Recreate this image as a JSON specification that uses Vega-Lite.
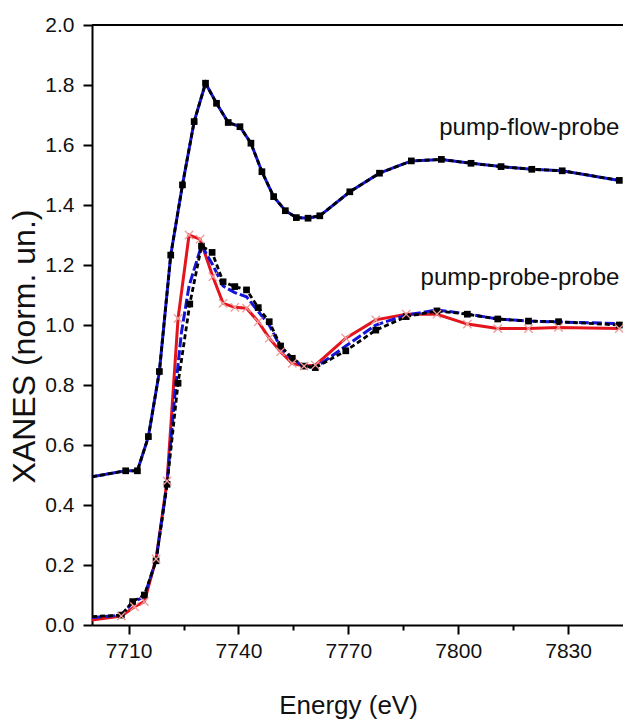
{
  "$schema": "https://vega.github.io/schema/vega-lite/v6.json",
  "width": 531,
  "height": 600,
  "autosize": {"type": "none"},
  "padding": {"left": 92, "top": 25, "right": 0, "bottom": 98},
  "background": "white",
  "config": {"view": {"stroke": null}, "font": "Liberation Sans"},
  "datasets": {"xanes": [
    {"s": "pfp", "E": 7700, "v": 0.494},
    {"s": "pfp", "E": 7709.2, "v": 0.514},
    {"s": "pfp", "E": 7712.4, "v": 0.514},
    {"s": "pfp", "E": 7715.4, "v": 0.628},
    {"s": "pfp", "E": 7718.4, "v": 0.845},
    {"s": "pfp", "E": 7721.5, "v": 1.233},
    {"s": "pfp", "E": 7724.7, "v": 1.467},
    {"s": "pfp", "E": 7727.9, "v": 1.678},
    {"s": "pfp", "E": 7731.0, "v": 1.806},
    {"s": "pfp", "E": 7734.0, "v": 1.739},
    {"s": "pfp", "E": 7737.2, "v": 1.675},
    {"s": "pfp", "E": 7740.4, "v": 1.661},
    {"s": "pfp", "E": 7743.4, "v": 1.606},
    {"s": "pfp", "E": 7746.4, "v": 1.511},
    {"s": "pfp", "E": 7749.6, "v": 1.428},
    {"s": "pfp", "E": 7752.8, "v": 1.381},
    {"s": "pfp", "E": 7755.8, "v": 1.358},
    {"s": "pfp", "E": 7759.0, "v": 1.356},
    {"s": "pfp", "E": 7762.2, "v": 1.364},
    {"s": "pfp", "E": 7770.4, "v": 1.444},
    {"s": "pfp", "E": 7778.5, "v": 1.506},
    {"s": "pfp", "E": 7787.2, "v": 1.547},
    {"s": "pfp", "E": 7795.4, "v": 1.552},
    {"s": "pfp", "E": 7803.5, "v": 1.539},
    {"s": "pfp", "E": 7811.7, "v": 1.528},
    {"s": "pfp", "E": 7820.1, "v": 1.519},
    {"s": "pfp", "E": 7828.4, "v": 1.514},
    {"s": "pfp", "E": 7844, "v": 1.482},

    {"s": "ppp_black", "E": 7700, "v": 0.028},
    {"s": "ppp_black", "E": 7708.0, "v": 0.033},
    {"s": "ppp_black", "E": 7711.1, "v": 0.078},
    {"s": "ppp_black", "E": 7714.3, "v": 0.100},
    {"s": "ppp_black", "E": 7717.5, "v": 0.214},
    {"s": "ppp_black", "E": 7720.5, "v": 0.469},
    {"s": "ppp_black", "E": 7723.5, "v": 0.806},
    {"s": "ppp_black", "E": 7726.7, "v": 1.07},
    {"s": "ppp_black", "E": 7729.9, "v": 1.263},
    {"s": "ppp_black", "E": 7732.8, "v": 1.242},
    {"s": "ppp_black", "E": 7735.8, "v": 1.144},
    {"s": "ppp_black", "E": 7739.0, "v": 1.128},
    {"s": "ppp_black", "E": 7742.2, "v": 1.117},
    {"s": "ppp_black", "E": 7745.4, "v": 1.058},
    {"s": "ppp_black", "E": 7748.4, "v": 1.011},
    {"s": "ppp_black", "E": 7751.5, "v": 0.93},
    {"s": "ppp_black", "E": 7754.7, "v": 0.889},
    {"s": "ppp_black", "E": 7757.9, "v": 0.863},
    {"s": "ppp_black", "E": 7761.0, "v": 0.858},
    {"s": "ppp_black", "E": 7769.3, "v": 0.914},
    {"s": "ppp_black", "E": 7777.5, "v": 0.983},
    {"s": "ppp_black", "E": 7785.8, "v": 1.028},
    {"s": "ppp_black", "E": 7794.2, "v": 1.047},
    {"s": "ppp_black", "E": 7802.5, "v": 1.036},
    {"s": "ppp_black", "E": 7810.8, "v": 1.020},
    {"s": "ppp_black", "E": 7819.2, "v": 1.013},
    {"s": "ppp_black", "E": 7827.4, "v": 1.011},
    {"s": "ppp_black", "E": 7844, "v": 1.000},

    {"s": "ppp_red", "E": 7700, "v": 0.017},
    {"s": "ppp_red", "E": 7708.0, "v": 0.030},
    {"s": "ppp_red", "E": 7711.6, "v": 0.061},
    {"s": "ppp_red", "E": 7714.3, "v": 0.078},
    {"s": "ppp_red", "E": 7717.5, "v": 0.220},
    {"s": "ppp_red", "E": 7720.5, "v": 0.480},
    {"s": "ppp_red", "E": 7723.5, "v": 1.022},
    {"s": "ppp_red", "E": 7726.5, "v": 1.300},
    {"s": "ppp_red", "E": 7729.5, "v": 1.286},
    {"s": "ppp_red", "E": 7733.0, "v": 1.161},
    {"s": "ppp_red", "E": 7735.8, "v": 1.072},
    {"s": "ppp_red", "E": 7739.0, "v": 1.059},
    {"s": "ppp_red", "E": 7742.2, "v": 1.056},
    {"s": "ppp_red", "E": 7745.4, "v": 1.011},
    {"s": "ppp_red", "E": 7748.4, "v": 0.956},
    {"s": "ppp_red", "E": 7751.5, "v": 0.911},
    {"s": "ppp_red", "E": 7754.7, "v": 0.872},
    {"s": "ppp_red", "E": 7757.9, "v": 0.863},
    {"s": "ppp_red", "E": 7761.0, "v": 0.866},
    {"s": "ppp_red", "E": 7769.3, "v": 0.956},
    {"s": "ppp_red", "E": 7777.5, "v": 1.017},
    {"s": "ppp_red", "E": 7785.8, "v": 1.036},
    {"s": "ppp_red", "E": 7794.2, "v": 1.036},
    {"s": "ppp_red", "E": 7802.5, "v": 1.003},
    {"s": "ppp_red", "E": 7810.8, "v": 0.988},
    {"s": "ppp_red", "E": 7819.2, "v": 0.988},
    {"s": "ppp_red", "E": 7827.4, "v": 0.992},
    {"s": "ppp_red", "E": 7844, "v": 0.988},

    {"s": "ppp_blue", "E": 7700, "v": 0.025},
    {"s": "ppp_blue", "E": 7708.0, "v": 0.033},
    {"s": "ppp_blue", "E": 7711.1, "v": 0.075},
    {"s": "ppp_blue", "E": 7714.3, "v": 0.095},
    {"s": "ppp_blue", "E": 7717.5, "v": 0.217},
    {"s": "ppp_blue", "E": 7720.5, "v": 0.472},
    {"s": "ppp_blue", "E": 7722.5, "v": 0.750},
    {"s": "ppp_blue", "E": 7724.4, "v": 0.973},
    {"s": "ppp_blue", "E": 7726.5, "v": 1.130},
    {"s": "ppp_blue", "E": 7729.9, "v": 1.265},
    {"s": "ppp_blue", "E": 7733.0, "v": 1.200},
    {"s": "ppp_blue", "E": 7735.8, "v": 1.130},
    {"s": "ppp_blue", "E": 7739.0, "v": 1.108},
    {"s": "ppp_blue", "E": 7742.2, "v": 1.094},
    {"s": "ppp_blue", "E": 7745.4, "v": 1.045},
    {"s": "ppp_blue", "E": 7748.4, "v": 1.000},
    {"s": "ppp_blue", "E": 7751.5, "v": 0.925},
    {"s": "ppp_blue", "E": 7754.7, "v": 0.885},
    {"s": "ppp_blue", "E": 7757.9, "v": 0.862},
    {"s": "ppp_blue", "E": 7761.0, "v": 0.858},
    {"s": "ppp_blue", "E": 7769.3, "v": 0.930},
    {"s": "ppp_blue", "E": 7777.5, "v": 1.000},
    {"s": "ppp_blue", "E": 7785.8, "v": 1.033},
    {"s": "ppp_blue", "E": 7794.2, "v": 1.050},
    {"s": "ppp_blue", "E": 7802.5, "v": 1.037},
    {"s": "ppp_blue", "E": 7810.8, "v": 1.020},
    {"s": "ppp_blue", "E": 7819.2, "v": 1.013},
    {"s": "ppp_blue", "E": 7827.4, "v": 1.010},
    {"s": "ppp_blue", "E": 7844, "v": 1.005}
  ]},
  "layer": [
    {
      "data": {"name": "xanes"},
      "encoding": {
        "x": {
          "field": "E", "type": "quantitative",
          "scale": {"domain": [7700, 7845], "nice": false, "zero": false},
          "axis": {
            "title": "Energy (eV)",
            "values": [7710, 7725, 7740, 7755, 7770, 7785, 7800, 7815, 7830],
            "format": "d",
            "labelExpr": "datum.value % 30 == 0 ? datum.label : ''",
            "tickSize": {"condition": {"test": "datum.value % 30 == 0", "value": 9}, "value": 5},
            "tickWidth": 2, "tickColor": "black",
            "domainColor": "black", "domainWidth": 2,
            "labelFontSize": 21, "labelColor": "#111", "labelPadding": 6, "labelOverlap": false, "labelFlush": false,
            "titleFontSize": 26, "titleFontWeight": "normal", "titleColor": "#111",
            "titleX": 256, "titleY": 88, "titleBaseline": "alphabetic", "titleAlign": "center",
            "grid": false
          }
        },
        "y": {
          "field": "v", "type": "quantitative",
          "scale": {"domain": [0, 2], "nice": false},
          "axis": {
            "title": "XANES (norm. un.)",
            "values": [0, 0.1, 0.2, 0.3, 0.4, 0.5, 0.6, 0.7, 0.8, 0.9, 1.0, 1.1, 1.2, 1.3, 1.4, 1.5, 1.6, 1.7, 1.8, 1.9, 2.0],
            "labelExpr": "round(datum.value*10) % 2 == 0 ? format(datum.value, '.1f') : ''",
            "tickSize": {"condition": {"test": "round(datum.value*10) % 2 == 0", "value": 9}, "value": 5},
            "tickWidth": 2, "tickColor": "black",
            "domainColor": "black", "domainWidth": 2,
            "labelFontSize": 21, "labelColor": "#111", "labelPadding": 9, "labelOverlap": false, "labelFlush": false,
            "titleFontSize": 32, "titleFontWeight": "normal", "titleColor": "#111",
            "titleX": -58, "titleY": 321, "titleAngle": 270, "titleBaseline": "alphabetic", "titleAlign": "center",
            "grid": false
          }
        }
      },
      "layer": [
        {"transform": [{"filter": "datum.s == 'pfp'"}], "mark": {"type": "line", "color": "#1414d8", "strokeWidth": 3}},
        {"transform": [{"filter": "datum.s == 'ppp_red'"}], "mark": {"type": "line", "color": "#e3141c", "strokeWidth": 3}},
        {"transform": [{"filter": "datum.s == 'ppp_blue'"}], "mark": {"type": "line", "color": "#1414d8", "strokeWidth": 3, "strokeDash": [10, 3]}},
        {"transform": [{"filter": "datum.s == 'ppp_black'"}], "mark": {"type": "line", "color": "black", "strokeWidth": 2.8, "strokeDash": [5, 3]}},
        {"transform": [{"filter": "datum.s == 'pfp'"}], "mark": {"type": "line", "color": "black", "strokeWidth": 2.8, "strokeDash": [5, 3]}},
        {"transform": [{"filter": "(datum.s == 'pfp' || datum.s == 'ppp_black') && datum.E > 7700"}], "mark": {"type": "point", "shape": "square", "filled": true, "color": "black", "size": 45, "opacity": 1}},
        {"transform": [{"filter": "datum.s == 'ppp_red' && datum.E > 7700"}], "mark": {"type": "point", "shape": "M-1,-1L1,1M-1,1L1,-1", "filled": false, "stroke": "#f09a9a", "strokeWidth": 1.3, "size": 70, "opacity": 1}}
      ]
    },
    {"data": {"values": [{}]}, "mark": {"type": "rule", "color": "black", "strokeWidth": 2}, "encoding": {"y": {"datum": 2}, "x": {"datum": 7700}, "x2": {"datum": 7845}}},
    {"data": {"values": [{"label": "pump-flow-probe"}]}, "mark": {"type": "text", "align": "right", "baseline": "middle", "fontSize": 24, "color": "#111"}, "encoding": {"x": {"datum": 7844}, "y": {"datum": 1.657}, "text": {"field": "label", "type": "nominal"}}},
    {"data": {"values": [{"label": "pump-probe-probe"}]}, "mark": {"type": "text", "align": "right", "baseline": "middle", "fontSize": 24, "color": "#111"}, "encoding": {"x": {"datum": 7844}, "y": {"datum": 1.157}, "text": {"field": "label", "type": "nominal"}}}
  ]
}
